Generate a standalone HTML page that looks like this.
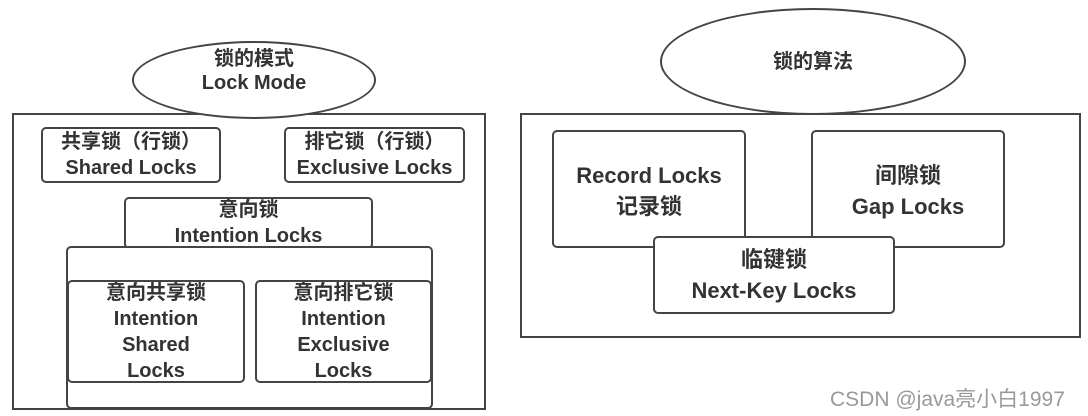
<!DOCTYPE html>
<html><head><meta charset="utf-8"><style>
body{margin:0;width:1088px;height:416px;background:#fff;position:relative;overflow:hidden;font-family:"Liberation Sans","Noto Sans CJK SC",sans-serif;color:#333;}
.b{position:absolute;border:2px solid #444;border-radius:5px;box-sizing:border-box;background:#fff;display:flex;flex-direction:column;align-items:center;justify-content:center;text-align:center;font-weight:bold;font-size:20px;line-height:26px;}
.sq{border-radius:0;}
.e{position:absolute;border:2px solid #444;border-radius:50%;box-sizing:border-box;background:#fff;display:flex;flex-direction:column;align-items:center;justify-content:center;font-weight:bold;font-size:20px;line-height:24px;}
</style></head><body>
<div class="b sq" style="left:12px;top:113px;width:474px;height:297px;"></div>
<div class="e" style="left:132px;top:41px;width:244px;height:78px;padding-bottom:18px;"><div>锁的模式</div><div>Lock Mode</div></div>
<div class="b" style="left:41px;top:127px;width:180px;height:56px;"><div>共享锁（行锁）</div><div>Shared Locks</div></div>
<div class="b" style="left:284px;top:127px;width:181px;height:56px;"><div>排它锁（行锁）</div><div>Exclusive Locks</div></div>
<div class="b" style="left:124px;top:197px;width:249px;height:52px;"><div>意向锁</div><div>Intention Locks</div></div>
<div class="b" style="left:66px;top:246px;width:367px;height:163px;"></div>
<div class="b" style="left:67px;top:280px;width:178px;height:103px;line-height:26px;"><div>意向共享锁</div><div>Intention</div><div>Shared</div><div>Locks</div></div>
<div class="b" style="left:255px;top:280px;width:177px;height:103px;line-height:26px;"><div>意向排它锁</div><div>Intention</div><div>Exclusive</div><div>Locks</div></div>

<div class="b sq" style="left:520px;top:113px;width:561px;height:225px;"></div>
<div class="e" style="left:660px;top:8px;width:306px;height:107px;"><div>锁的算法</div></div>
<div class="b" style="left:552px;top:130px;width:194px;height:118px;justify-content:flex-start;padding-top:28px;line-height:31px;font-size:22px;"><div>Record Locks</div><div>记录锁</div></div>
<div class="b" style="left:811px;top:130px;width:194px;height:118px;justify-content:flex-start;padding-top:28px;line-height:31px;font-size:22px;"><div>间隙锁</div><div>Gap Locks</div></div>
<div class="b" style="left:653px;top:236px;width:242px;height:78px;line-height:31px;font-size:22px;"><div>临键锁</div><div>Next-Key Locks</div></div>
<div style="position:absolute;left:830px;top:383px;font-size:21px;color:#999;white-space:nowrap;">CSDN @java亮小白1997</div>
</body></html>
